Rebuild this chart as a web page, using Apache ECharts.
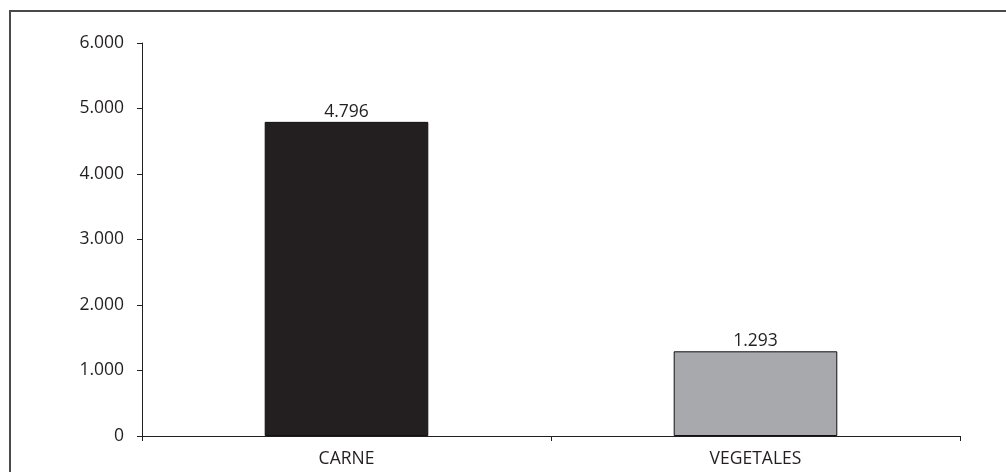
<!DOCTYPE html>
<html>
<head>
<meta charset="utf-8">
<script src="https://cdn.jsdelivr.net/npm/echarts@6/dist/echarts.min.js"></script>
<style>
  html, body { margin: 0; padding: 0; background: #fff; }
  #chart { width: 1006px; height: 472px; }
</style>
</head>
<body>
<div id="chart"></div>
<script>
// categorias y valores
var categorias = ['CARNE', 'VEGETALES'];
var valores = [4796, 1293];
var colores = ['#231f20', '#a7a9ac'];

// separador de miles con punto
function miles(v) {
  return String(v).replace(/\B(?=(\d{3})+(?!\d))/g, '.');
}

var chart = echarts.init(document.getElementById('chart'));

var fuente = { fontFamily: 'Open Sans', fontSize: 17.5, color: '#231f20' };

chart.setOption({
  animation: false,
  graphic: [{
    type: 'rect',
    shape: { x: 10, y: 11, width: 1010, height: 480 },
    style: { fill: 'none', stroke: '#4a4a4a', lineWidth: 2 },
    silent: true
  }],
  grid: { left: 142, right: 46, top: 43, bottom: 36 },
  xAxis: {
    type: 'category',
    data: categorias,
    axisLine: { lineStyle: { color: '#231f20', width: 1 } },
    axisTick: { show: true, length: 5, lineStyle: { color: '#231f20' } },
    axisLabel: Object.assign({ margin: 14 }, fuente)
  },
  yAxis: {
    type: 'value',
    min: 0,
    max: 6000,
    interval: 1000,
    splitLine: { show: false },
    axisLine: { show: true, lineStyle: { color: '#231f20', width: 1 } },
    axisTick: { show: true, length: 5, lineStyle: { color: '#231f20' } },
    axisLabel: Object.assign({ margin: 18, formatter: miles }, fuente)
  },
  series: [{
    type: 'bar',
    barWidth: '40%',
    data: valores.map(function (v, i) {
      return { value: v, itemStyle: { color: colores[i] } };
    }),
    itemStyle: { borderColor: '#111', borderWidth: 1 },
    label: Object.assign({
      show: true,
      position: 'top',
      distance: 1,
      formatter: function (p) { return miles(p.value); }
    }, fuente)
  }]
});
</script>
</body>
</html>
